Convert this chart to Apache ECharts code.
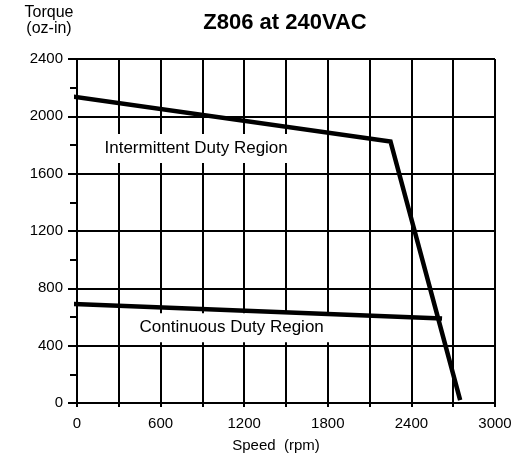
<!DOCTYPE html>
<html>
<head>
<meta charset="utf-8">
<script src="https://cdn.jsdelivr.net/npm/echarts@6/dist/echarts.min.js"></script>
<style>
  html, body { margin: 0; padding: 0; background: #fff; }
  #chart { width: 522px; height: 458px; }
</style>
</head>
<body>
<div id="chart"></div>
<script>
// intermittent duty boundary (rpm, oz-in)
var intermittentSpeed = [-50, 2250, 2750];
var intermittentTorque = [2140, 1825, 20];
// continuous duty boundary
var continuousSpeed = [-50, 2620];
var continuousTorque = [692, 590];
// region captions and where they sit
var regionNames = ['Intermittent Duty Region', 'Continuous Duty Region'];
var regionSpeed = [855, 1110];
var regionTorque = [1775, 525];

function pairs(xs, ys) {
	var out = [];
	for (var i = 0; i < xs.length; i++) out.push([xs[i], ys[i]]);
	return out;
}

var font = 'Liberation Sans, Arial, sans-serif';
var chart = echarts.init(document.getElementById('chart'));

var lineStyle = { color: '#000', width: 4.5, join: 'miter' };

chart.setOption({
	animation: false,
	textStyle: { fontFamily: font },
	title: [{
		text: 'Z806 at 240VAC',
		left: 280, top: 7, textAlign: 'center',
		textStyle: { fontSize: 22, fontWeight: 'bold', color: '#000', fontFamily: font }
	}, {
		text: 'Torque\n(oz-in)',
		left: 44, top: 0, textAlign: 'center',
		textStyle: { fontSize: 16, fontWeight: 'normal', color: '#000', lineHeight: 16, fontFamily: font }
	}],
	grid: { left: 77, right: 27, top: 59, bottom: 53 },
	xAxis: {
		type: 'value', min: 0, max: 3000, interval: 300,
		name: 'Speed  (rpm)', nameLocation: 'middle', nameGap: 35, nameMoveOverlap: false,
		nameTextStyle: { fontSize: 15, color: '#000', padding: [0, 20, 0, 0], fontFamily: font },
		axisLine: { lineStyle: { color: '#000', width: 2 } },
		axisTick: { show: true, length: 4, lineStyle: { color: '#000', width: 2 } },
		axisLabel: {
			fontSize: 15, color: '#000', margin: 13, fontFamily: font,
			formatter: function (v) { return v % 600 === 0 ? String(v) : ''; }
		},
		splitLine: { lineStyle: { color: '#000', width: 2 } }
	},
	yAxis: {
		type: 'value', min: 0, max: 2400, interval: 400,
		axisLine: { lineStyle: { color: '#000', width: 2 } },
		axisTick: { show: true, length: 9, lineStyle: { color: '#000', width: 2 } },
		minorTick: { show: true, splitNumber: 2, length: 7, lineStyle: { color: '#000', width: 2 } },
		axisLabel: {
			fontSize: 15, color: '#000', margin: 14, fontFamily: font,
			formatter: function (v) { return String(v); }
		},
		splitLine: { lineStyle: { color: '#000', width: 2 } }
	},
	series: [
		{
			name: 'Intermittent', type: 'line', symbol: 'none', z: 5, clip: false,
			data: pairs(intermittentSpeed, intermittentTorque),
			lineStyle: lineStyle
		},
		{
			name: 'Continuous', type: 'line', symbol: 'none', z: 5, clip: false,
			data: pairs(continuousSpeed, continuousTorque),
			lineStyle: lineStyle
		},
		{
			name: 'Regions', type: 'scatter', symbolSize: 0, z: 4,
			itemStyle: { opacity: 1, color: '#fff' },
			data: regionNames.map(function (n, i) {
				return { name: n, value: [regionSpeed[i], regionTorque[i]] };
			}),
			label: {
				show: true, position: 'inside', formatter: '{b}', opacity: 1,
				fontSize: 17, color: '#000', fontFamily: font,
				backgroundColor: '#fff', padding: [6, 12]
			},
			emphasis: { disabled: true }
		}
	]
});
</script>
</body>
</html>
